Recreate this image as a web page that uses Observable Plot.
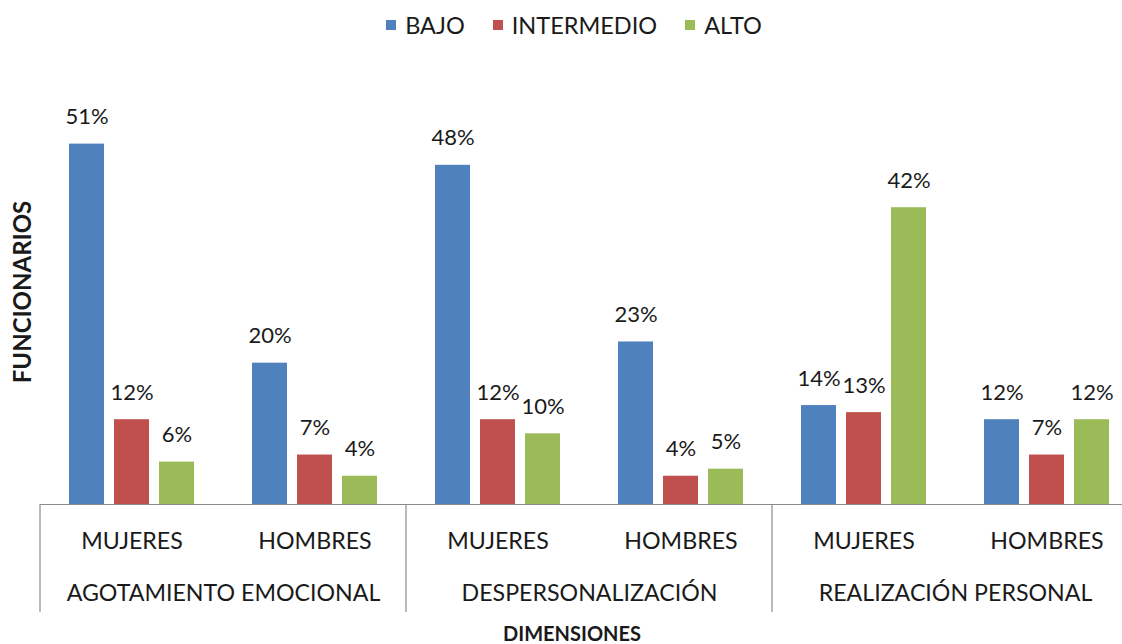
<!DOCTYPE html>
<html><head><meta charset="utf-8">
<script src="https://cdn.jsdelivr.net/npm/d3@7"></script>
<script src="https://cdn.jsdelivr.net/npm/@observablehq/plot@0.6"></script>
<style>
html,body{margin:0;padding:0;background:#fff;overflow:hidden;}
#wrap{width:1148px;font-family:Lato, "Open Sans", sans-serif;color:#1a1a1a;}
#legend{height:50px;display:flex;justify-content:center;align-items:center;gap:28px;font-size:23.5px;}
.item{display:flex;align-items:center;gap:9px}
.sw{width:10px;height:10px;display:inline-block}
</style></head><body><div id="wrap"><div id="legend"></div><div id="chart"></div></div>
<script>
const dimensions = ["AGOTAMIENTO EMOCIONAL", "DESPERSONALIZACIÓN", "REALIZACIÓN PERSONAL"];
const sexes = ["MUJERES", "HOMBRES"];
const levels = ["BAJO", "INTERMEDIO", "ALTO"];
const colors = ["#4F81BD", "#C0504D", "#9BBB59"];
// order: AE-M, AE-H, DP-M, DP-H, RP-M, RP-H
const bajo = [51, 20, 48, 23, 14, 12];
const intermedio = [12, 7, 12, 4, 13, 7];
const alto = [6, 4, 10, 5, 42, 12];
const yTitle = "FUNCIONARIOS";
const xTitle = "DIMENSIONES";

const series = [bajo, intermedio, alto];
const groups = [];
dimensions.forEach((dim, di) => sexes.forEach((sex, si) => {
  groups.push({dim, sex, key: dim + "|" + sex, idx: di * 2 + si});
}));
const keys = groups.map(g => g.key);
const rows = [];
groups.forEach(g => levels.forEach((lv, li) => rows.push({key: g.key, level: lv, value: series[li][g.idx]})));
const dimRows = groups.filter(g => g.sex === sexes[0]);

// legend
const legend = d3.select("#legend");
levels.forEach((lv, i) => {
  const it = legend.append("div").attr("class", "item");
  it.append("span").attr("class", "sw").style("background", colors[i]);
  it.append("span").text(lv);
});

const FS = 22;
const CS = 23.2;
const plot = Plot.plot({
  width: 1140, height: 594,
  marginLeft: 40, marginRight: 2, marginTop: 30, marginBottom: 140,
  style: {fontFamily: "Lato, 'Open Sans', sans-serif", fontSize: FS + "px", color: "#1a1a1a", background: "white"},
  fx: {domain: keys, padding: 0, axis: null},
  x: {domain: levels, paddingInner: 0.217, paddingOuter: 0.598, axis: null},
  y: {domain: [0, 60], axis: null},
  color: {domain: levels, range: colors},
  marks: [
    Plot.barY(rows, {fx: "key", x: "level", y: "value", fill: "level"}),
    Plot.ruleY([0], {stroke: "#8c8c8c", strokeWidth: 1.2}),
    Plot.text(rows, {fx: "key", x: "level", y: "value", text: d => d.value + "%", dy: -27, lineAnchor: "middle", fontSize: FS, fill: "#1a1a1a"}),
    Plot.text(groups, {fx: "key", text: "sex", frameAnchor: "bottom", dy: 37, lineAnchor: "middle", fontSize: CS, fill: "#1a1a1a"}),
    Plot.text(dimRows, {fx: "key", text: "dim", frameAnchor: "bottom-right", textAnchor: "middle", dy: 89, lineAnchor: "middle", fontSize: CS, fill: "#1a1a1a"})
  ]
});
document.getElementById("chart").appendChild(plot);

// separators between dimensions, derived from the facet and y scales
const fxs = plot.scale("fx");
const fxScale = d3.scaleBand().domain(fxs.domain).range(fxs.range)
  .paddingInner(fxs.paddingInner || 0).paddingOuter(fxs.paddingOuter || 0);
const ys = plot.scale("y");
const yScale = d3.scaleLinear().domain(ys.domain).range(ys.range);
const y0 = yScale(0);
const sepX = dimRows.map(g => fxScale(g.key)).concat([fxScale(keys[keys.length - 1]) + fxScale.bandwidth()]);
const svg = d3.select(plot);
svg.append("g").selectAll("line").data(sepX).join("line")
  .attr("x1", d => d).attr("x2", d => d).attr("y1", y0).attr("y2", y0 + 108)
  .attr("stroke", "#8c8c8c").attr("stroke-width", 1.2);
svg.append("text").text(yTitle)
  .attr("transform", `translate(21,${yScale(30)}) rotate(-90)`)
  .attr("text-anchor", "middle").attr("dominant-baseline", "central")
  .attr("font-weight", "bold").attr("font-size", 24).attr("fill", "#1a1a1a");
svg.append("text").text(xTitle)
  .attr("x", 572).attr("y", y0 + 129)
  .attr("text-anchor", "middle").attr("dominant-baseline", "central")
  .attr("font-weight", "bold").attr("font-size", 20).attr("fill", "#1a1a1a");
</script></body></html>
